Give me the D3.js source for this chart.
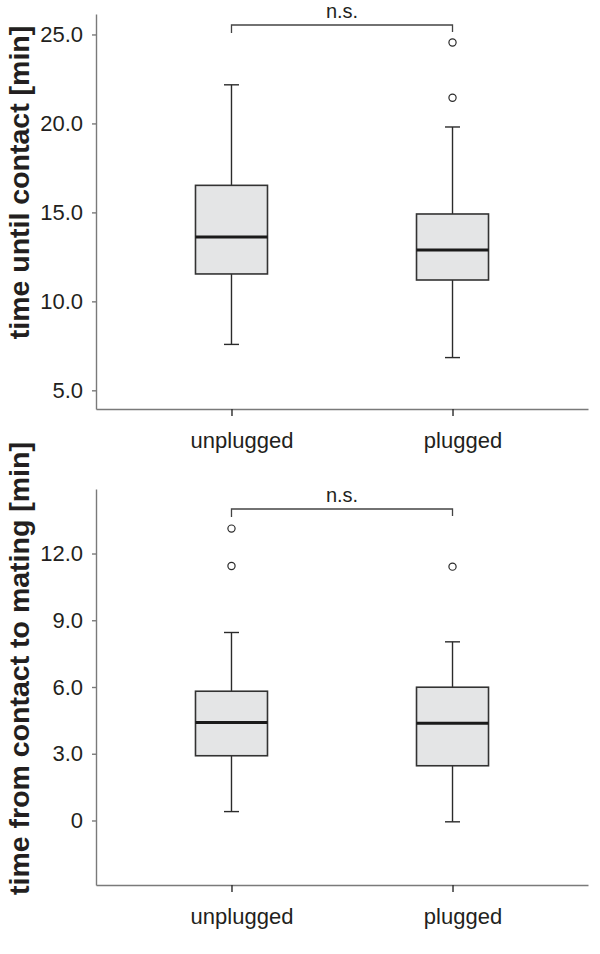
<!DOCTYPE html>
<html>
<head>
<meta charset="utf-8">
<script src="https://cdn.jsdelivr.net/npm/d3@7"></script>
<style>
  html, body { margin: 0; padding: 0; background: #fff; }
  svg { display: block; }
  text { font-family: "Liberation Sans", Arial, Helvetica, sans-serif; fill: #231f20; }
</style>
</head>
<body>
<svg id="chart" width="600" height="954"></svg>
<script>
// ---------- data ----------
const categories = ["unplugged", "plugged"];

// panel 1: time until contact [min]
const contactWhiskerLow  = [7.58, 6.84];
const contactQ1          = [11.54, 11.20];
const contactMedian      = [13.62, 12.89];
const contactQ3          = [16.52, 14.91];
const contactWhiskerHigh = [22.17, 19.80];
const contactOutliers    = [[], [24.55, 21.44]];
const contactTicks       = [5, 10, 15, 20, 25];
const contactTickLabels  = ["5.0", "10.0", "15.0", "20.0", "25.0"];

// panel 2: time from contact to mating [min]
const matingWhiskerLow  = [0.40, -0.06];
const matingQ1          = [2.91, 2.46];
const matingMedian      = [4.40, 4.37];
const matingQ3          = [5.81, 5.99];
const matingWhiskerHigh = [8.45, 8.03];
const matingOutliers    = [[13.12, 11.44], [11.41]];
const matingTicks       = [0, 3, 6, 9, 12];
const matingTickLabels  = ["0", "3.0", "6.0", "9.0", "12.0"];

const sigLabel = "n.s.";

// ---------- drawing ----------
const svg = d3.select("#chart");
const axisColor = "#7a7a7a";
const darkColor = "#2b2b2b";

function panel(opts) {
  const g = svg.append("g");
  const x = d3.scalePoint().domain(categories).range([96, 588]).padding(0.613);
  const y = d3.scaleLinear().domain(opts.domain).range([opts.bottom, opts.top]);

  // y axis
  const yAxis = d3.axisLeft(y)
    .tickValues(opts.ticks)
    .tickFormat((d, i) => opts.tickLabels[i])
    .tickSize(4).tickSizeOuter(0).tickPadding(9);
  const ya = g.append("g").attr("transform", "translate(96,0)").call(yAxis);
  ya.select(".domain").attr("stroke", axisColor).attr("stroke-width", 1.4);
  ya.selectAll(".tick line").attr("stroke", axisColor).attr("stroke-width", 1.4);
  ya.selectAll(".tick text").attr("font-size", 22).attr("fill", "#231f20")
    .attr("font-family", "Liberation Sans, Arial, sans-serif");

  // x axis
  const xAxis = d3.axisBottom(x).tickSize(7).tickSizeOuter(0).tickPadding(12);
  const xa = g.append("g").attr("transform", `translate(0,${opts.bottom})`).call(xAxis);
  xa.select(".domain").attr("stroke", axisColor).attr("stroke-width", 1.4);
  xa.selectAll(".tick line").attr("stroke", darkColor).attr("stroke-width", 1.4);
  xa.selectAll(".tick text").attr("font-size", 22).attr("fill", "#231f20")
    .attr("font-family", "Liberation Sans, Arial, sans-serif")
    .attr("dx", 10).attr("dy", "0.9em");

  const boxW = 72, capW = 15;
  const rows = categories.map((c, i) => ({
    c, lo: opts.lo[i], q1: opts.q1[i], med: opts.med[i], q3: opts.q3[i], hi: opts.hi[i], out: opts.out[i]
  }));

  const b = g.selectAll(".box").data(rows).enter().append("g");
  // whiskers
  b.append("line").attr("x1", d => x(d.c)).attr("x2", d => x(d.c))
    .attr("y1", d => y(d.q3)).attr("y2", d => y(d.hi))
    .attr("stroke", darkColor).attr("stroke-width", 1.4);
  b.append("line").attr("x1", d => x(d.c)).attr("x2", d => x(d.c))
    .attr("y1", d => y(d.q1)).attr("y2", d => y(d.lo))
    .attr("stroke", darkColor).attr("stroke-width", 1.4);
  b.append("line").attr("x1", d => x(d.c) - capW / 2).attr("x2", d => x(d.c) + capW / 2)
    .attr("y1", d => y(d.hi)).attr("y2", d => y(d.hi))
    .attr("stroke", darkColor).attr("stroke-width", 1.4);
  b.append("line").attr("x1", d => x(d.c) - capW / 2).attr("x2", d => x(d.c) + capW / 2)
    .attr("y1", d => y(d.lo)).attr("y2", d => y(d.lo))
    .attr("stroke", darkColor).attr("stroke-width", 1.4);
  // box
  b.append("rect").attr("x", d => x(d.c) - boxW / 2).attr("width", boxW)
    .attr("y", d => y(d.q3)).attr("height", d => y(d.q1) - y(d.q3))
    .attr("fill", "#e4e5e6").attr("stroke", "#333").attr("stroke-width", 1.6);
  // median
  b.append("line").attr("x1", d => x(d.c) - boxW / 2).attr("x2", d => x(d.c) + boxW / 2)
    .attr("y1", d => y(d.med)).attr("y2", d => y(d.med))
    .attr("stroke", "#1a1a1a").attr("stroke-width", 3);
  // outliers
  b.selectAll("circle").data(d => d.out.map(v => ({ c: d.c, v }))).enter().append("circle")
    .attr("cx", d => x(d.c)).attr("cy", d => y(d.v)).attr("r", 3.6)
    .attr("fill", "#fff").attr("stroke", darkColor).attr("stroke-width", 1.2);

  // significance bracket
  const x1 = x(categories[0]), x2 = x(categories[1]);
  const by = opts.bracketY;
  g.append("path")
    .attr("d", `M${x1},${by + 8}V${by}H${x2}V${by + 7}`)
    .attr("fill", "none").attr("stroke", "#444").attr("stroke-width", 1.3);
  g.append("text").attr("x", (x1 + x2) / 2).attr("y", by - 7)
    .attr("text-anchor", "middle").attr("font-size", 20).text(sigLabel);

  // y label
  g.append("text")
    .attr("transform", `translate(28.5,${opts.labelCenter}) rotate(-90)`)
    .attr("text-anchor", "middle").attr("font-size", 28.5).attr("font-weight", "bold")
    .text(opts.label);
}

panel({
  domain: [3.95, 26.15], top: 14, bottom: 409,
  ticks: contactTicks, tickLabels: contactTickLabels,
  lo: contactWhiskerLow, q1: contactQ1, med: contactMedian, q3: contactQ3, hi: contactWhiskerHigh,
  out: contactOutliers, bracketY: 25, labelCenter: 182.5,
  label: "time until contact [min]"
});

panel({
  domain: [-2.9, 14.9], top: 489, bottom: 885,
  ticks: matingTicks, tickLabels: matingTickLabels,
  lo: matingWhiskerLow, q1: matingQ1, med: matingMedian, q3: matingQ3, hi: matingWhiskerHigh,
  out: matingOutliers, bracketY: 509, labelCenter: 668.5,
  label: "time from contact to mating [min]"
});
</script>
</body>
</html>
